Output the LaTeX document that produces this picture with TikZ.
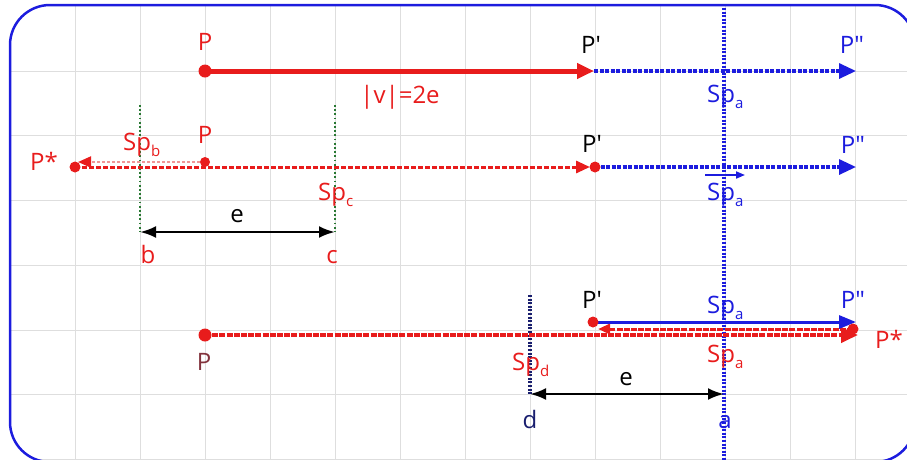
\documentclass[tikz,border=0pt]{standalone}
\usepackage{fontspec}
\setmainfont{Open Sans}
\usetikzlibrary{arrows.meta}
\definecolor{myred}{RGB}{232,28,28}
\definecolor{myblue}{RGB}{28,28,222}
\definecolor{mynavy}{RGB}{25,30,110}
\definecolor{dkgreen}{RGB}{40,120,50}
\definecolor{brownred}{RGB}{130,50,60}
\definecolor{mypink}{RGB}{240,150,150}
\definecolor{gridc}{RGB}{222,222,222}
\newcommand{\lsub}[1]{\raisebox{-6pt}{\fontsize{15}{15}\selectfont #1}}
\begin{document}
\begin{tikzpicture}[x=1pt,y=-1pt,
  lbl/.style={inner sep=0pt, anchor=base, font=\fontsize{24}{28}\selectfont},
  lblw/.style={lbl, anchor=base west},
  gridline/.style={gridc, line width=1pt},
  border/.style={myblue, line width=2.5pt, rounded corners=40pt},
  redsolid/.style={myred, line width=5pt, -{Triangle[length=17pt,width=15pt]}},
  bluedash/.style={myblue, line width=3.2pt, dash pattern=on 4pt off 1.5pt, -{Triangle[length=17pt,width=15pt]}},
  reddash/.style={myred, line width=3pt, dash pattern=on 5pt off 2pt, -{Triangle[length=14pt,width=12pt]}},
  pinkdot/.style={mypink, line width=2pt, dash pattern=on 3pt off 2pt, -{Triangle[length=13pt,width=11pt,color=myred]}},
  bluedots/.style={myblue, line width=3.2pt, dash pattern=on 2pt off 1.6pt},
  navydots/.style={mynavy, line width=3.2pt, dash pattern=on 2pt off 1.6pt},
  greendots/.style={dkgreen, line width=2.6pt, dash pattern=on 1.8pt off 2.4pt},
  dimarrow/.style={black, line width=2.6pt, {Latex[length=16pt,width=12pt]}-{Latex[length=16pt,width=12pt]}},
  redlong/.style={myred, line width=4pt, dash pattern=on 6pt off 1.2pt, -{Triangle[length=17pt,width=15pt]}},
  redback/.style={myred, line width=3pt, dash pattern=on 6pt off 1.2pt, -{Triangle[length=12pt,width=10pt]}},
  bluesolid/.style={myblue, line width=3pt, -{Triangle[length=17pt,width=13pt]}},
  vecarrow/.style={myblue, line width=1.8pt, -{Triangle[length=9pt,width=7pt]}}
]
\useasboundingbox (0,0) rectangle (907,459);
\begin{scope}
\clip (0,0) rectangle (907,459);
\begin{scope}
\clip[rounded corners=40pt] (10,5) rectangle (915,462);
\foreach \i in {1,...,13} \draw[gridline] ({10+65*\i},0) -- ({10+65*\i},470);
\foreach \j in {1,...,7} \draw[gridline] (0,{6.5+64.7*\j}) -- (920,{6.5+64.7*\j});
\end{scope}
\draw[border] (10,5) rectangle (915,462);

% vertical lines
\coordinate (at) at (724,8);
\coordinate (ab) at (724,462);
\draw[bluedots] (at) -- (ab);
\coordinate (gb1) at (140,105); \coordinate (gb2) at (140,232);
\coordinate (gc1) at (335,105); \coordinate (gc2) at (335,232);
\draw[greendots] (gb1) -- (gb2);
\draw[greendots] (gc1) -- (gc2);
\coordinate (dt) at (530,295); \coordinate (db) at (530,395);
\draw[navydots] (dt) -- (db);

% row 1
\coordinate (p1) at (205,71);
\coordinate (q1) at (594,71);
\coordinate (r1) at (856,71);
\draw[redsolid] (p1) -- (q1);
\draw[bluedash] (q1) -- (r1);
\fill[myred] (p1) circle (6.5pt);
\node[lbl, myred] (lP1) at (205,50) {P};
\node[lbl] (lQ1) at (591,53) {P\textquotesingle};
\node[lbl, myblue] (lR1) at (852,53) {P\textquotedbl};
\node[lbl, myred] (lv) at (400,103) {|v|=2e};
\node[lblw, myblue] (sa1) at (707,102) {Sp\lsub{a}};

% row 2
\coordinate (ps2) at (75,167);
\coordinate (pst) at (78,162);
\coordinate (p2) at (205,162);
\coordinate (qe2) at (590,167);
\coordinate (q2) at (595,167);
\coordinate (r2) at (856,167);
\draw[reddash] (ps2) -- (qe2);
\draw[pinkdot] (p2) -- (pst);
\draw[bluedash] (q2) -- (r2);
\fill[myred] (ps2) circle (5.5pt);
\fill[myred] (q2) circle (5.5pt);
\fill[myred] (p2) circle (5pt);
\node[lbl, myred] (lP2) at (205,143) {P};
\node[lbl, myred] (lS2) at (44,170) {P*};
\node[lblw, myred] (sb) at (123,150) {Sp\lsub{b}};
\node[lbl] (lQ2) at (592,152) {P\textquotesingle};
\node[lbl, myblue] (lR2) at (853,153) {P\textquotedbl};
\node[lblw, myblue] (sa2) at (707,200) {Sp\lsub{a}};
\coordinate (vA) at (705,175);
\coordinate (vB) at (745,175);
\draw[vecarrow] (vA) -- (vB);
\node[lblw, myred] (sc) at (318,200) {Sp\lsub{c}};
\draw[dimarrow] (gb2) -- (gc2);
\node[lbl] (e1) at (237,222) {e};
\node[lbl, myred] (lb) at (148,263) {b};
\node[lbl, myred] (lc) at (332,263) {c};

% row 3
\coordinate (p3) at (205,335);
\coordinate (s3) at (858,335);
\coordinate (s3b) at (853,329);
\coordinate (q3b) at (598,329);
\coordinate (q3) at (593,322);
\coordinate (r3) at (856,322);
\draw[redlong] (p3) -- (s3);
\draw[redback] (s3b) -- (q3b);
\draw[bluesolid] (q3) -- (r3);
\fill[myred] (p3) circle (6.5pt);
\fill[myred] (q3) circle (5.5pt);
\fill[myred] (s3b) circle (5.5pt);
\node[lbl] (lQ3) at (592,308) {P\textquotesingle};
\node[lblw, myblue] (sa3) at (707,313) {Sp\lsub{a}};
\node[lbl, myblue] (lR3) at (853,308) {P\textquotedbl};
\node[lbl, myred] (lS3) at (889,348) {P*};
\node[lblw, myred] (sa4) at (707,362) {Sp\lsub{a}};
\node[lblw, myred] (sd) at (512,370) {Sp\lsub{d}};
\node[lbl, brownred] (lP3) at (204,370) {P};
\coordinate (da) at (530,394);
\coordinate (aa) at (724,394);
\draw[dimarrow] (da) -- (aa);
\node[lbl] (e2) at (626,385) {e};
\node[lbl, mynavy] (ld) at (530,428) {d};
\node[lbl, myblue] (la) at (725,428) {a};
\end{scope}
\end{tikzpicture}
\end{document}
